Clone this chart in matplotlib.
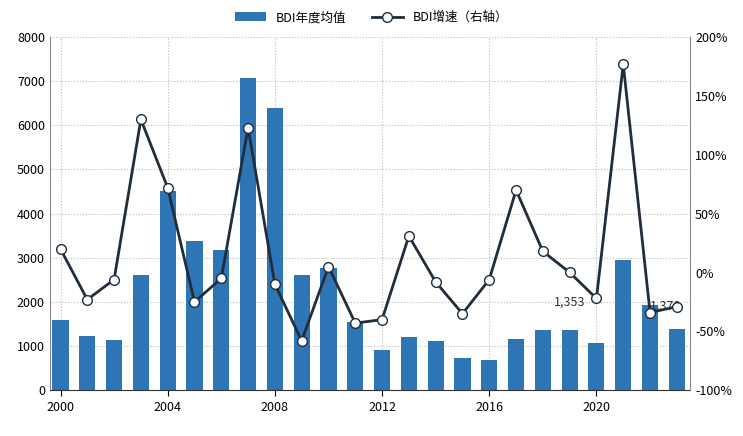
import matplotlib
matplotlib.use("Agg")
import matplotlib.pyplot as plt
from matplotlib.ticker import FuncFormatter

plt.rcParams['font.family'] = ['Noto Sans CJK SC']

years = list(range(2000, 2024))
bdi_avg = [1600, 1230, 1140, 2620, 4510, 3370, 3180, 7070, 6390, 2620, 2760, 1550,
           920, 1210, 1110, 720, 675, 1150, 1353, 1353, 1070, 2940, 1930, 1378]
bdi_growth = [20, -23, -6, 130, 72, -25, -5, 123, -10, -58, 5, -43, -40, 31, -8, -35,
              -6, 70, 18, 0, -22, 177, -34, -29]
xticks = [2000, 2004, 2008, 2012, 2016, 2020]

fig = plt.figure(figsize=(7.43, 4.36), dpi=100)
ax = fig.add_axes([0.067, 0.105, 0.862, 0.81])
ax.bar(years, bdi_avg, width=0.6, color='#2E75B6', label='BDI年度均值', zorder=2)
ax.set_ylim(0, 8000)
ax.set_yticks(range(0, 8001, 1000))
ax.set_xlim(1999.6, 2023.5)
ax.set_xticks(xticks)
ax.grid(True, linestyle=':', color='#bbbbbb', linewidth=0.8, zorder=0)
for s in ['top', 'right']:
    ax.spines[s].set_visible(False)
ax.spines['left'].set_color('#888888')
ax.spines['bottom'].set_color('#333333')
ax.tick_params(labelsize=9, length=0)
ax.tick_params(axis='x', length=4, direction='out')

ax2 = ax.twinx()
ax2.plot(years, bdi_growth, color='#1F2D3D', linewidth=2, marker='o', markersize=7,
         markerfacecolor='white', markeredgecolor='#1F2D3D', markeredgewidth=1, label='BDI增速（右轴）', zorder=3)
ax2.set_ylim(-100, 200)
ax2.set_yticks(range(-100, 201, 50))
ax2.yaxis.set_major_formatter(FuncFormatter(lambda v, p: f'{int(v)}%'))
for s in ['top', 'left']:
    ax2.spines[s].set_visible(False)
ax2.spines['right'].set_color('#888888')
ax2.spines['bottom'].set_visible(False)
ax2.tick_params(labelsize=9, length=0)

ax.annotate(f'{bdi_avg[19]:,}', (years[19], bdi_avg[19]), xytext=(0, 18), textcoords='offset points',
            ha='center', fontsize=9, color='#333333')
ax.annotate(f'{bdi_avg[23]:,}', (years[23], bdi_avg[23]), xytext=(-8, 14), textcoords='offset points',
            ha='center', fontsize=9, color='#333333', zorder=5)

h1, l1 = ax.get_legend_handles_labels()
h2, l2 = ax2.get_legend_handles_labels()
fig.legend(h1 + h2, l1 + l2, loc='upper center', bbox_to_anchor=(0.5, 1.0), ncol=2,
           frameon=False, fontsize=9, handlelength=2.5, columnspacing=2)
fig.savefig('out.png', dpi=100)
